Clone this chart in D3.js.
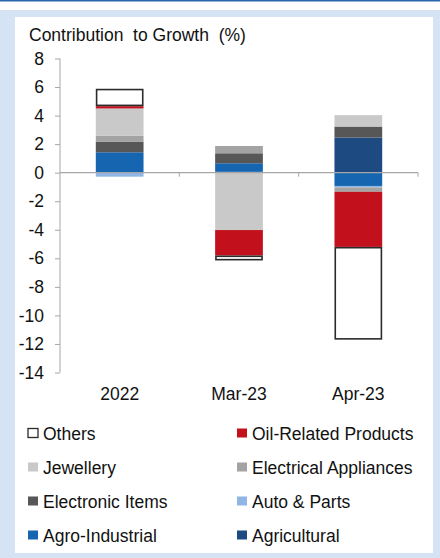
<!DOCTYPE html>
<html>
<head>
<meta charset="utf-8">
<script src="https://cdn.jsdelivr.net/npm/d3@7"></script>
<style>
  body { margin: 0; background: #fff; }
  svg text { font-family: "Liberation Sans", Arial, sans-serif; fill: #111; }
</style>
</head>
<body>
<script>
// categories and series (stack order: first = nearest the axis)
var categories = ["2022", "Mar-23", "Apr-23"];
var seriesNames = ["Agricultural", "Agro-Industrial", "Auto & Parts", "Electronic Items",
                   "Electrical Appliances", "Jewellery", "Oil-Related Products", "Others"];
var agricultural = [0, 0.06, 2.46];
var agroIndustrial = [1.43, 0.6, -0.93];
var autoParts = [-0.28, 0, -0.1];
var electronicItems = [0.75, 0.7, 0.77];
var electricalAppliances = [0.42, 0.51, -0.31];
var jewellery = [1.9, -4.02, 0.8];
var oilRelated = [0.16, -1.78, -3.86];
var others = [1.22, -0.35, -6.5];
var yTicks = [8, 6, 4, 2, 0, -2, -4, -6, -8, -10, -12, -14];
// legend order as in the picture (two columns)
var legendOrder = ["Others", "Oil-Related Products", "Jewellery", "Electrical Appliances",
                   "Electronic Items", "Auto & Parts", "Agro-Industrial", "Agricultural"];

var colors = {
  "Agricultural": "#1d4a80",
  "Agro-Industrial": "#1565b0",
  "Auto & Parts": "#8fb6e4",
  "Electronic Items": "#575757",
  "Electrical Appliances": "#a3a3a3",
  "Jewellery": "#c9c9c9",
  "Oil-Related Products": "#c2101c",
  "Others": "#ffffff"
};

var allValues = [agricultural, agroIndustrial, autoParts, electronicItems,
                 electricalAppliances, jewellery, oilRelated, others];
var rows = categories.map(function(c, i) {
  var r = {cat: c};
  seriesNames.forEach(function(s, j) { r[s] = allValues[j][i]; });
  return r;
});

var W = 440, H = 558, FS = 17.5;
var svg = d3.select("body").append("svg").attr("width", W).attr("height", H);

// frame
svg.append("rect").attr("x", 0).attr("y", 0).attr("width", W).attr("height", 1.5).attr("fill", "#2a64ad");
svg.append("rect").attr("x", 0).attr("y", 10).attr("width", W).attr("height", H - 10).attr("fill", "#d5e3f4");
svg.append("rect").attr("x", 15).attr("y", 17).attr("width", 418).attr("height", 536).attr("fill", "#fff");

svg.append("text").attr("x", 29).attr("y", 40.5).attr("font-size", FS)
  .style("white-space", "pre").text("Contribution  to Growth  (%)");

var x = d3.scaleBand().domain(categories).range([60, 418]).paddingInner(0.6).paddingOuter(0.3);
var y = d3.scaleLinear().domain([-14, 8]).range([372.5, 58.5]);

var stack = d3.stack().keys(seriesNames).offset(d3.stackOffsetDiverging);
var layers = stack(rows);

// axes
var yAxis = svg.append("g").attr("transform", "translate(60,0)")
  .call(d3.axisLeft(y).tickValues(yTicks).tickSize(5).tickPadding(11)
    .tickFormat(function(d) { return String(d); }));
yAxis.select(".domain").attr("stroke", "#a6a6a6").attr("d", "M0," + y(8) + "V" + y(-14));
yAxis.selectAll(".tick line").attr("stroke", "#a6a6a6");
yAxis.selectAll(".tick text").attr("font-size", FS).attr("font-family", "Liberation Sans, Arial, sans-serif").attr("fill", "#111");

var g = svg.append("g");
// draw Others last-stroked boxes inset so thin neighbours stay visible
layers.forEach(function(layer) {
  var k = layer.key, isOthers = k === "Others";
  g.selectAll(null).data(layer).enter().append("rect")
    .attr("x", function(d) { return x(d.data.cat) + (isOthers ? 0.8 : 0); })
    .attr("width", x.bandwidth() - (isOthers ? 1.6 : 0))
    .attr("y", function(d) { return y(Math.max(d[0], d[1])) + (isOthers ? 0.8 : 0); })
    .attr("height", function(d) { return Math.max(0, Math.abs(y(d[0]) - y(d[1])) - (isOthers ? 1.6 : 0)); })
    .attr("fill", colors[k])
    .attr("stroke", isOthers ? "#2b2b2b" : "none")
    .attr("stroke-width", isOthers ? 1.6 : 0);
});

// zero line with category ticks
svg.append("line").attr("x1", 60).attr("x2", 418).attr("y1", y(0)).attr("y2", y(0))
  .attr("stroke", "#a6a6a6").attr("stroke-width", 1.2);
[1, 2, 3].forEach(function(i) {
  var xx = 60 + (418 - 60) * i / 3;
  svg.append("line").attr("x1", xx).attr("x2", xx).attr("y1", y(0)).attr("y2", y(0) + 4)
    .attr("stroke", "#a6a6a6");
});

// category labels
svg.selectAll(".cat").data(categories).enter().append("text")
  .attr("x", function(d) { return x(d) + x.bandwidth() / 2; })
  .attr("y", 399.5).attr("text-anchor", "middle").attr("font-size", FS)
  .text(function(d) { return d; });

// legend
legendOrder.forEach(function(name, i) {
  var col = i % 2, row = Math.floor(i / 2);
  var lx = col === 0 ? 28 : 237, ly = 433 + row * 34;
  svg.append("rect").attr("x", lx).attr("y", ly - 4.5).attr("width", 10).attr("height", 9)
    .attr("fill", colors[name])
    .attr("stroke", name === "Others" ? "#2b2b2b" : "none").attr("stroke-width", 1.3);
  svg.append("text").attr("x", lx + 15).attr("y", ly + 6.5).attr("font-size", FS).text(name);
});
</script>
</body>
</html>
